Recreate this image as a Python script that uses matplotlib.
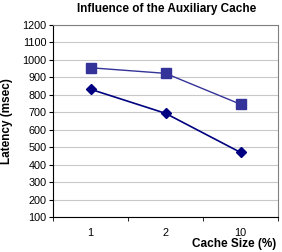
import matplotlib.pyplot as plt
import numpy as np

plt.rcParams['font.family'] = ['Liberation Sans', 'DejaVu Sans']

categories = ['1', '2', '10']
latency_square = [955, 923, 746]
latency_diamond = [832, 694, 470]

fig = plt.figure(figsize=(2.82, 2.52), dpi=100)
ax = fig.add_axes([53 / 282, 1 - 217 / 252, 225 / 282, 192 / 252])

xs = np.arange(len(categories))
ax.plot(xs, latency_square, marker='s', markersize=6.5, color='#333399', lw=1.0)
ax.plot(xs, latency_diamond, marker='D', markersize=5, color='#000080', lw=1.2)

ax.set_xlim(-0.5, len(categories) - 0.5)
ax.set_ylim(100, 1200)
ax.set_yticks(range(100, 1201, 100))
ax.yaxis.grid(True, color='#c8c8c8', lw=0.8)
ax.set_axisbelow(True)

ax.set_xticks(xs)
ax.set_xticklabels(categories, fontsize=7.8)
ax.set_xticks(np.arange(-0.5, len(categories)), minor=True)
ax.tick_params(axis='x', which='major', length=0, pad=8)
ax.tick_params(axis='x', which='minor', length=3, direction='out', color='black')
ax.tick_params(axis='y', labelsize=7.8, length=3, direction='out', pad=1.5)

for side in ['top', 'right']:
    ax.spines[side].set_color('#808080')
    ax.spines[side].set_linewidth(0.8)
ax.spines['left'].set_color('black')
ax.spines['bottom'].set_color('black')

fig.text(167 / 282, 1 - 9 / 252, 'Influence of the Auxiliary Cache', ha='center', va='center',
         fontsize=8.5, fontweight='bold')
fig.text(7 / 282, 1 - 121 / 252, 'Latency (msec)', ha='center', va='center', rotation=90,
         fontsize=8.5, fontweight='bold')
fig.text(276 / 282, 1 - 244 / 252, 'Cache Size (%)', ha='right', va='center',
         fontsize=8.5, fontweight='bold')

fig.savefig('out.png', dpi=100)
